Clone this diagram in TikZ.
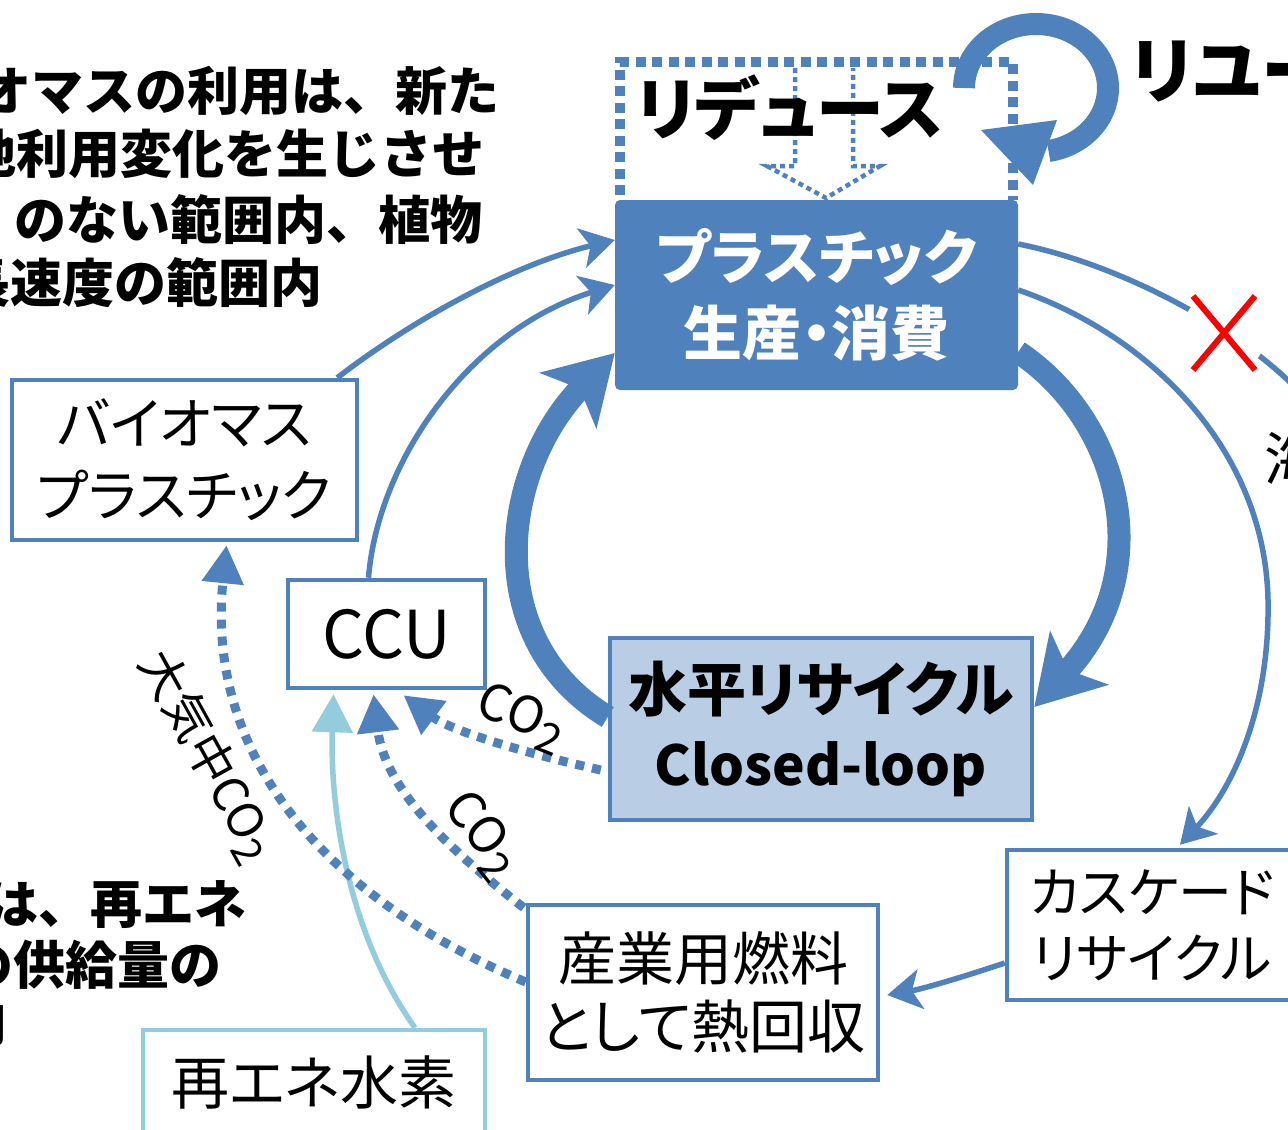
\documentclass[tikz,border=0pt]{standalone}
\usepackage{fontspec}
\newfontfamily\jp{Noto Sans CJK JP}[RawFeature=+palt]
\newfontfamily\jpn{Noto Sans CJK JP}
\usetikzlibrary{arrows.meta}
\definecolor{cblue}{HTML}{4F81BD}
\definecolor{clight}{HTML}{B9CDE5}
\definecolor{ccyan}{HTML}{93CDDD}
\newcommand{\cotwo}{CO\raisebox{-0.22em}{\scalebox{0.85}{2}}}
\begin{document}
\begin{tikzpicture}[x=1pt,y=-1pt,
  box/.style={draw=cblue, line width=4.5pt, fill=white, inner sep=0pt, align=center},
  para/.style={inner sep=0pt, font=\jpn\bfseries\fontsize{52}{60}\selectfont},
  thinarr/.style={draw=cblue, line width=5.5pt, -{Stealth[length=34pt,width=40pt,inset=9pt]}},
  thickarr/.style={draw=cblue, line width=23pt, -{Stealth[length=66pt,width=78pt,inset=16pt]}},
  dotarr/.style={draw=cblue, line width=9pt, dash pattern=on 9pt off 8pt, -{Triangle[length=38pt,width=40pt]}},
  lbl/.style={inner sep=0pt, font=\jp\fontsize{50}{56}\selectfont}
]
\useasboundingbox (0,0) rectangle (1288,1130);
\clip (0,0) rectangle (1288,1130);

% ---- paragraphs (cut by the frame) ----
\node[para, anchor=east] (p1) at (500,91) {バイオマスの利用は、新た};
\node[para, anchor=east] (p2) at (485,154) {な土地利用変化を生じさせ};
\node[para, anchor=east] (p3) at (483,220) {のない範囲内、植物};
\node[para, anchor=east] (p4) at (323,283) {成長速度の範囲内};
\node[para, anchor=east] (q1) at (247,905) {は、再エネ};
\node[para, anchor=east] (q2) at (222,965) {の供給量の};
\node[para, anchor=east] (q3) at (8,1022) {内};

% ---- reuse ring ----
\draw[cblue, line width=22pt] (964,88) arc[start angle=180, end angle=440, x radius=72, y radius=64];
\fill[cblue] (1057,120) -- (1033,185) -- (981,130) -- cycle;

% ---- reduce dotted box ----
\draw[cblue, line width=10pt, dash pattern=on 10pt off 6.5pt] (620,195) -- (620,62) -- (1013,62) -- (1013,200);
\draw[cblue, line width=4.5pt, dash pattern=on 5pt off 4pt]
  (795,68) -- (795,166) -- (767,166) -- (826,198) -- (880,166) -- (853,166) -- (853,68);
\node[inner sep=0pt, font=\jp\bfseries\fontsize{68}{80}\selectfont] (reduce) at (790,108) {リデュース};
\node[inner sep=0pt, anchor=west, font=\jp\bfseries\fontsize{72}{80}\selectfont] (reuse) at (1131,72) {リユース};

% ---- boxes ----
\node[fill=cblue, rounded corners=5pt, inner sep=0pt, align=center, text=white,
      minimum width=403pt, minimum height=190pt,
      font=\jp\bfseries\fontsize{59}{76}\selectfont] (main) at (816.5,295) {プラスチック\\生産・消費};
\node[box, minimum width=345pt, minimum height=160pt, font=\jp\fontsize{56}{72}\selectfont] (bio) at (184.5,460) {バイオマス\\プラスチック};
\node[box, minimum width=197pt, minimum height=108pt, font=\jp\fontsize{66}{72}\selectfont] (ccu) at (386.5,634) {CCU};
\node[box, fill=clight, minimum width=422pt, minimum height=182pt, font=\jp\bfseries\fontsize{59}{74}\selectfont] (hr) at (821,729) {水平リサイクル\\{\fontsize{55}{74}\selectfont Closed-loop}};
\node[box, minimum width=290pt, minimum height=150pt, font=\jp\fontsize{54}{66}\selectfont] (cas) at (1152,925) {カスケード\\リサイクル};
\node[box, minimum width=350pt, minimum height=175pt, font=\jp\fontsize{58}{68}\selectfont] (fuel) at (703,992.5) {産業用燃料\\として熱回収};
\node[box, draw=ccyan, minimum width=342pt, minimum height=104pt, font=\jp\fontsize{58}{67}\selectfont] (h2) at (314,1082) {再エネ水素};
\node[inner sep=0pt, anchor=west, font=\jp\fontsize{58}{67}\selectfont] (sea) at (1264,458) {海};

% ---- connectors ----
\draw[thinarr] ([xshift=-22pt]bio.north east) .. controls (415,318) and (515,264) .. ([yshift=55pt]main.west);
\draw[thinarr] ([xshift=-18pt]ccu.north) .. controls (378,460) and (470,330) .. ([yshift=10pt]main.west);
\draw[cblue, line width=5.5pt] ([yshift=51pt]main.east) .. controls (1110,262) and (1230,320) .. (1300,392);
\fill[white] (1224,333) circle (42);
\draw[red, line width=6pt] (1193,296) -- (1255,370) (1255,296) -- (1193,370);
\draw[thinarr] ([yshift=5pt]main.east) .. controls (1150,335) and (1265,450) .. (1268,600)
   .. controls (1270,710) and (1232,790) .. ([xshift=28pt,yshift=3pt]cas.north);
\draw[thinarr] ([yshift=-38pt]cas.west) .. controls (960,978) and (922,989) .. ([xshift=7pt,yshift=-2.5pt]fuel.east);
\draw[thickarr] ([yshift=12pt]hr.west) .. controls (480,640) and (500,470) .. ([yshift=-58pt]main.west);
\draw[thickarr] ([yshift=-57pt]main.east) .. controls (1120,420) and (1160,570) .. ([yshift=22pt]hr.east);
\draw[draw=ccyan, line width=5.5pt, -{Triangle[length=38pt,width=40pt]}] ([xshift=101pt]h2.north) .. controls (345,930) and (330,800) .. ([xshift=-53pt,yshift=-4pt]ccu.south);
\draw[dotarr] ([yshift=10.5pt]fuel.west) .. controls (330,900) and (205,760) .. ([xshift=42pt,yshift=-3pt]bio.south);
\draw[dotarr] ([xshift=-2pt,yshift=-5pt]fuel.north west) .. controls (450,850) and (385,790) .. ([xshift=-13pt,yshift=-4pt]ccu.south);
\draw[dotarr] ([xshift=-7pt,yshift=-41pt]hr.west) .. controls (520,752) and (450,730) .. ([xshift=17pt,yshift=-5pt]ccu.south);

% ---- labels ----
\node[lbl, rotate=-22] (l1) at (521,718) {\cotwo};
\node[lbl, rotate=-52] (l2) at (481,835) {\cotwo};
\node[lbl, rotate=-61, font=\jp\fontsize{48}{54}\selectfont] (l3) at (207,756) {大気中\cotwo};
\end{tikzpicture}
\end{document}
